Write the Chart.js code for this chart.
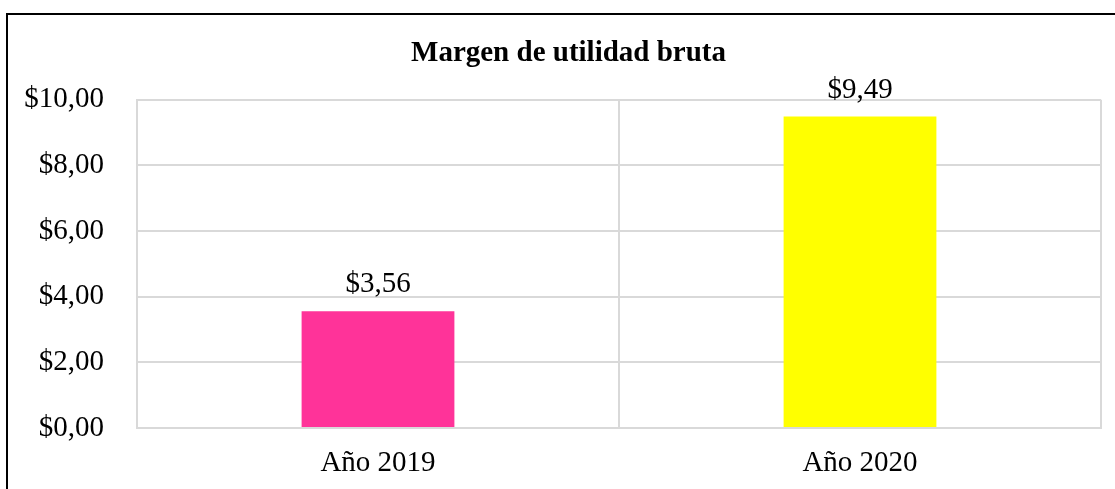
<!DOCTYPE html>
<html>
<head>
<meta charset="utf-8">
<script src="https://cdn.jsdelivr.net/npm/chart.js@4/dist/chart.umd.min.js"></script>
<style>
  html, body { margin: 0; padding: 0; background: #fff; overflow: hidden; }
  #frame {
    position: absolute; left: 6px; top: 13px; width: 1200px; height: 600px;
    border-left: 2px solid #000; border-top: 2px solid #000;
  }
  #wrap { position: absolute; left: 0; top: 0; width: 1115px; height: 489px; }
</style>
</head>
<body>
<div id="frame"></div>
<div id="wrap"><canvas id="chart" width="1115" height="489"></canvas></div>
<script>
const categories = ["Año 2019", "Año 2020"];
const margins = [3.56, 9.49];
const barColors = ["#FF3399", "#FFFF00"];
const yTicks = [0, 2, 4, 6, 8, 10];

const money = v => "$" + Number(v).toFixed(2).replace(".", ",");
const serif = "'Liberation Serif', 'Times New Roman', serif";

// value labels over each bar
const barLabels = {
  id: "barLabels",
  afterLayout(chart) {
    // title sits a bit right of centre in the original
    if (chart.titleBlock) chart.titleBlock.left = 36;
  },
  afterDatasetsDraw(chart) {
    const ctx = chart.ctx;
    const meta = chart.getDatasetMeta(0);
    ctx.save();
    ctx.font = "29px " + serif;
    ctx.fillStyle = "#000";
    ctx.textAlign = "center";
    ctx.textBaseline = "alphabetic";
    meta.data.forEach((bar, i) => {
      ctx.fillText(money(margins[i]), bar.x, bar.y - 19);
    });
    ctx.restore();
  }
};

new Chart(document.getElementById("chart"), {
  type: "bar",
  data: {
    labels: categories,
    datasets: [{
      data: margins,
      backgroundColor: barColors,
      categoryPercentage: 1,
      barPercentage: 0.317
    }]
  },
  options: {
    responsive: false,
    animation: false,
    layout: { padding: { left: 0, right: 14, top: 0, bottom: 0 } },
    plugins: {
      legend: { display: false },
      tooltip: { enabled: false },
      title: {
        display: true,
        text: "Margen de utilidad bruta",
        color: "#000",
        font: { family: serif, size: 29, weight: "bold" },
        padding: { top: 36, bottom: 29 }
      }
    },
    scales: {
      x: {
        afterFit(scale) { scale.height = 61; },
        grid: { color: "#d9d9d9", lineWidth: 2, drawTicks: false, offset: true },
        border: { color: "#d9d9d9", width: 2 },
        ticks: { color: "#000", font: { family: serif, size: 29 }, padding: 18 }
      },
      y: {
        min: 0,
        max: 10,
        afterFit(scale) { scale.width = 137; },
        afterBuildTicks(scale) { scale.ticks = yTicks.map(v => ({ value: v })); },
        grid: { color: "#d9d9d9", lineWidth: 2, drawTicks: false },
        border: { color: "#d9d9d9", width: 2 },
        ticks: {
          color: "#000",
          font: { family: serif, size: 29 },
          padding: 33,
          callback: v => money(v)
        }
      }
    }
  },
  plugins: [barLabels]
});
</script>
</body>
</html>
